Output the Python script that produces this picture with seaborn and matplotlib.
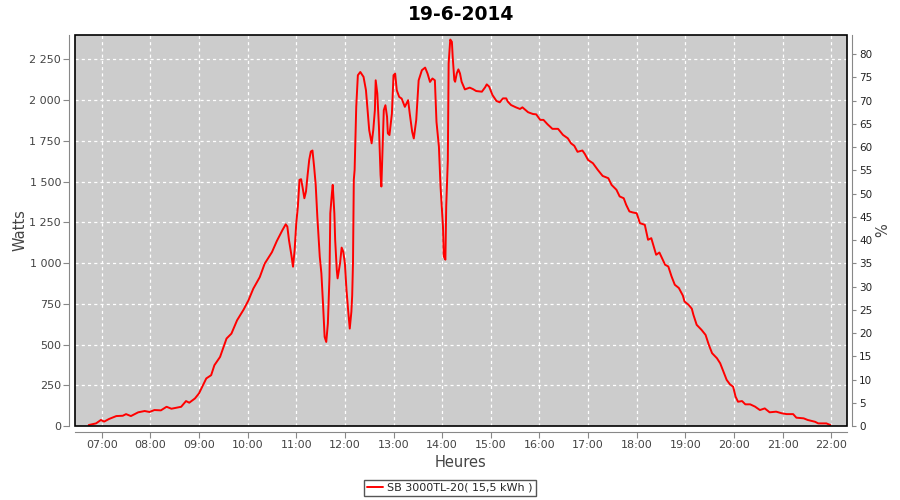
import pandas as pd
import matplotlib
matplotlib.use("Agg")
import matplotlib.pyplot as plt
import matplotlib.dates as mdates
from matplotlib.ticker import FuncFormatter, MultipleLocator
from matplotlib.patches import Rectangle
import seaborn as sns

DAY = "2014-06-19"
TITLE = "19-6-2014"
SERIES_LABEL = "SB 3000TL-20( 15,5 kWh )"

times = [
    "06:44", "06:53", "06:59", "07:03", "07:09", "07:18", "07:26", "07:30", "07:36", "07:45",
    "07:53", "07:59", "08:05", "08:13", "08:20", "08:26", "08:38", "08:44", "08:48", "08:55",
    "09:00", "09:05", "09:09", "09:15", "09:19", "09:26", "09:34", "09:40", "09:47", "09:55",
    "10:01", "10:07", "10:15", "10:21", "10:30", "10:36", "10:43", "10:47", "10:49", "10:51",
    "10:54", "10:56", "10:58", "11:00", "11:02", "11:04", "11:06", "11:08", "11:10", "11:12",
    "11:14", "11:16", "11:18", "11:20", "11:22", "11:24", "11:26", "11:29", "11:31", "11:33",
    "11:35", "11:37", "11:39", "11:41", "11:42", "11:44", "11:45", "11:47", "11:48", "11:50",
    "11:51", "11:54", "11:56", "11:58", "12:00", "12:02", "12:04", "12:06", "12:08", "12:09",
    "12:10", "12:11", "12:12", "12:14", "12:16", "12:19", "12:23", "12:26", "12:28", "12:30",
    "12:33", "12:35", "12:37", "12:38", "12:40", "12:42", "12:44", "12:45", "12:46", "12:48",
    "12:50", "12:52", "12:53", "12:55", "12:58", "13:00", "13:02", "13:04", "13:07", "13:10",
    "13:14", "13:18", "13:20", "13:23", "13:25", "13:28", "13:31", "13:35", "13:39", "13:42",
    "13:45", "13:48", "13:51", "13:53", "13:56", "13:58", "14:01", "14:02", "14:04", "14:05",
    "14:07", "14:08", "14:10", "14:12", "14:13", "14:15", "14:16", "14:18", "14:20", "14:22",
    "14:24", "14:28", "14:34", "14:38", "14:42", "14:49", "14:53", "14:55", "14:58", "15:02",
    "15:07", "15:11", "15:15", "15:19", "15:21", "15:25", "15:31", "15:36", "15:39", "15:46",
    "15:52", "15:56", "16:01", "16:05", "16:10", "16:16", "16:23", "16:29", "16:35", "16:39",
    "16:43", "16:47", "16:53", "16:56", "17:00", "17:06", "17:12", "17:18", "17:25", "17:29",
    "17:35", "17:39", "17:44", "17:47", "17:51", "17:55", "18:00", "18:04", "18:10", "18:14",
    "18:18", "18:24", "18:28", "18:35", "18:39", "18:43", "18:47", "18:52", "18:57", "18:59",
    "19:04", "19:08", "19:10", "19:14", "19:20", "19:25", "19:29", "19:33", "19:39", "19:43",
    "19:47", "19:51", "19:55", "19:59", "20:02", "20:05", "20:10", "20:14", "20:20", "20:26",
    "20:32", "20:38", "20:44", "20:52", "20:59", "21:05", "21:13", "21:17", "21:26", "21:31",
    "21:40", "21:44", "21:54", "21:59",
]
watts = [
    6, 16, 37, 27, 43, 61, 63, 73, 61, 84,
    92, 86, 98, 96, 118, 106, 118, 153, 143, 169,
    200, 251, 292, 312, 373, 424, 537, 567, 649, 714,
    771, 843, 914, 996, 1067, 1135, 1203, 1238, 1224, 1142,
    1049, 978, 1080, 1244, 1347, 1511, 1515, 1459, 1398, 1439,
    1541, 1634, 1685, 1691, 1593, 1480, 1285, 1039, 937, 752,
    547, 516, 629, 916, 1306, 1429, 1480, 1306, 1142, 957,
    906, 998, 1095, 1070, 998, 834, 711, 598, 701, 800,
    1000, 1511, 1571, 1959, 2153, 2173, 2143, 2061, 1939, 1816,
    1735, 1816, 1939, 2122, 2041, 1837, 1541, 1470, 1633, 1939,
    1969, 1898, 1796, 1786, 1918, 2153, 2163, 2061, 2020, 2010,
    1959, 2000, 1918, 1806, 1765, 1878, 2122, 2184, 2200, 2163,
    2112, 2133, 2122, 1867, 1714, 1470, 1225, 1041, 1021, 1347,
    1633, 2226, 2372, 2358, 2266, 2124, 2113, 2164, 2189, 2164,
    2113, 2066, 2077, 2068, 2056, 2052, 2079, 2097, 2083, 2032,
    1995, 1987, 2011, 2011, 1991, 1970, 1956, 1946, 1956, 1926,
    1915, 1913, 1879, 1879, 1852, 1824, 1824, 1787, 1766, 1735,
    1720, 1683, 1691, 1670, 1633, 1613, 1572, 1535, 1521, 1480,
    1450, 1409, 1398, 1358, 1317, 1311, 1306, 1245, 1235, 1143,
    1153, 1051, 1065, 990, 979, 918, 867, 847, 800, 764,
    744, 720, 682, 621, 590, 559, 498, 447, 416, 385,
    334, 283, 256, 241, 180, 149, 153, 133, 133, 119,
    98, 108, 84, 88, 78, 73, 73, 51, 47, 37,
    26, 16, 16, 6,
]

pct_ticks = list(range(0, 85, 5))

TXT = "#444444"
AXIS = "#888888"

sns.set_style("ticks")
plt.rcParams["font.family"] = ["DejaVu Sans"]

df = pd.DataFrame({"time": pd.to_datetime([f"{DAY} {t}" for t in times]), "watts": watts})

fig, ax = plt.subplots(figsize=(9, 5), dpi=100)
fig.subplots_adjust(left=0.0833, right=0.9407, top=0.93, bottom=0.148)

ax.set_facecolor("#cccccc")
sns.lineplot(data=df, x="time", y="watts", ax=ax, color="#ff0000", linewidth=1.4,
             label=SERIES_LABEL, zorder=3)

ax.set_xlim(pd.Timestamp(f"{DAY} 06:27"), pd.Timestamp(f"{DAY} 22:19"))
ax.set_ylim(0, 2400)
ax.xaxis.set_major_locator(mdates.HourLocator(byhour=range(7, 23)))
ax.xaxis.set_major_formatter(mdates.DateFormatter("%H:%M"))
ax.yaxis.set_major_locator(MultipleLocator(250))
ax.yaxis.set_major_formatter(FuncFormatter(lambda v, p: f"{int(v):,}".replace(",", " ")))
ax.grid(True, color="white", linestyle=(0, (2.5, 2.5)), linewidth=0.9)
ax.set_axisbelow(True)

ax.set_xlabel("Heures", fontsize=10.5, color=TXT)
ax.set_ylabel("Watts", fontsize=10.5, color=TXT, labelpad=1)
ax.set_title(TITLE, fontsize=13.5, fontweight="bold", color="black", pad=11)

ax2 = ax.twinx()
ax2.set_ylim(0, 84.1)
ax2.set_yticks(pct_ticks)
ax2.set_ylabel("%", fontsize=10.5, color=TXT, labelpad=2)

for s in ["top", "right"]:
    ax.spines[s].set_visible(False)
for s in ["left", "bottom"]:
    ax.spines[s].set_position(("outward", 4))
    ax.spines[s].set_color(AXIS)
for s in ["top", "left", "bottom"]:
    ax2.spines[s].set_visible(False)
ax2.spines["right"].set_position(("outward", 4))
ax2.spines["right"].set_color(AXIS)

ax.tick_params(axis="both", direction="out", length=4, color=AXIS, labelcolor=TXT,
               labelsize=8, pad=2)
ax2.tick_params(axis="y", direction="out", length=3, color=AXIS, labelcolor="#222222",
                labelsize=7.5, pad=2)

ax.add_patch(Rectangle((0, 0), 1, 1, transform=ax.transAxes, fill=False,
                       edgecolor="black", linewidth=1.2, zorder=5, clip_on=False))

handles, labels = ax.get_legend_handles_labels()
ax.get_legend().remove()
fig.legend(handles, labels, loc="center", bbox_to_anchor=(0.5, 0.024), frameon=True,
           fancybox=False, edgecolor="#555555", framealpha=1, fontsize=8,
           handlelength=1.4, handletextpad=0.4, borderpad=0.3)

fig.savefig("out.png", dpi=100)
